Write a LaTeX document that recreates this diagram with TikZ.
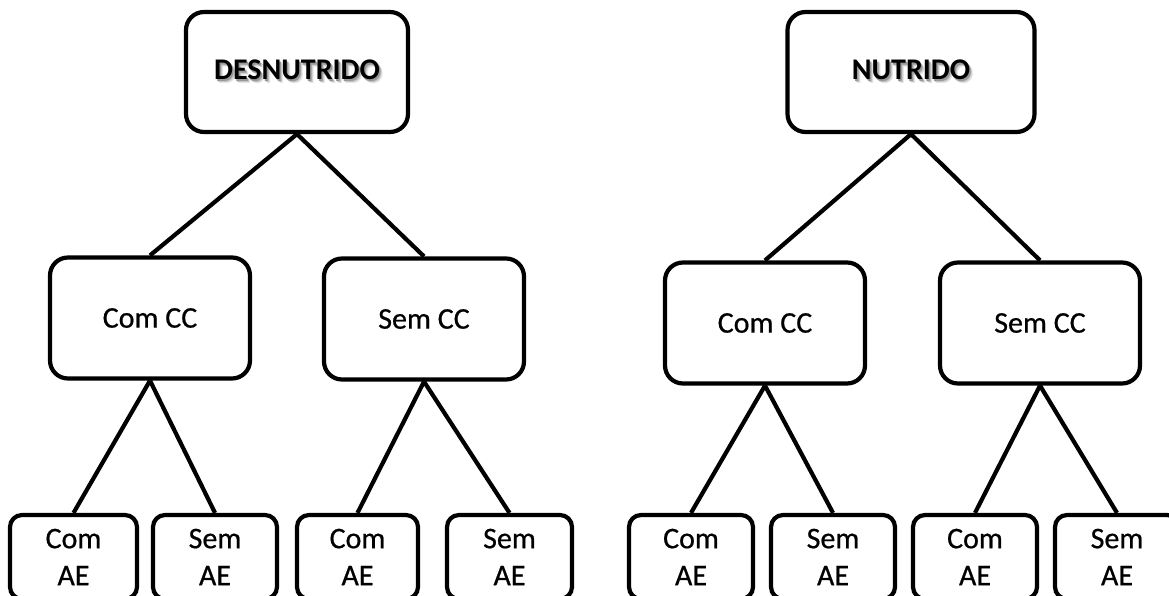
\documentclass[tikz,border=0pt]{standalone}
\usepackage{fontspec}
\setmainfont{Carlito}[UprightFeatures={FakeBold=0.6}]
% bold title with a soft drop shadow built from offset grey copies
\newcommand\shadowed[1]{%
  \makebox[0pt][l]{\kern3.5pt\raisebox{-3.5pt}{\color{black!10}#1}}%
  \makebox[0pt][l]{\kern2.5pt\raisebox{-2.5pt}{\color{black!22}#1}}%
  \makebox[0pt][l]{\kern1.5pt\raisebox{-1.5pt}{\color{black!40}#1}}%
  #1}
\begin{document}
\begin{tikzpicture}[x=1pt,y=-1pt,
  box/.style={draw, line width=4.2pt, inner sep=0pt, align=center,
    font=\fontsize{30}{37}\selectfont},
  topbox/.style={box, rounded corners=18pt, minimum height=120pt,
    font=\fontsize{30}{37}\selectfont\bfseries},
  midbox/.style={box, rounded corners=18pt, minimum height=121pt, minimum width=200pt},
  leafbox/.style={box, rounded corners=12pt, minimum height=84pt, minimum width=124pt},
  link/.style={line width=4.2pt}]
\useasboundingbox (0,0) rectangle (1169,596);
\clip (0,0) rectangle (1169,596);

% roots
\node[topbox, minimum width=222pt] (d) at (297,72) {\shadowed{DESNUTRIDO}};
\node[topbox, minimum width=247pt] (n) at (911,72) {\shadowed{NUTRIDO}};

% second level
\node[midbox] (dc) at (150,318) {Com CC};
\node[midbox] (ds) at (424,319) {Sem CC};
\node[midbox] (nc) at (765,323) {Com CC};
\node[midbox] (ns) at (1040,323) {Sem CC};

% leaves
\node[leafbox, minimum width=127pt] (b1) at (73.5,557) {Com\\AE};
\node[leafbox] (b2) at (215,557) {Sem\\AE};
\node[leafbox, minimum width=121pt] (b3) at (357.5,557) {Com\\AE};
\node[leafbox, minimum width=125pt] (b4) at (509.5,557) {Sem\\AE};
\node[leafbox] (b5) at (691,557) {Com\\AE};
\node[leafbox] (b6) at (833,557) {Sem\\AE};
\node[leafbox] (b7) at (975,557) {Com\\AE};
\node[leafbox] (b8) at (1117,557) {Sem\\AE};

% connectors
\draw[link] (d.south) -- (dc.north);
\draw[link] (d.south) -- (ds.north);
\draw[link] (n.south) -- (nc.north);
\draw[link] (n.south) -- (ns.north);
\draw[link] (dc.south) -- (b1.north);
\draw[link] (dc.south) -- (b2.north);
\draw[link] (ds.south) -- (b3.north);
\draw[link] (ds.south) -- (b4.north);
\draw[link] (nc.south) -- (b5.north);
\draw[link] (nc.south) -- (b6.north);
\draw[link] (ns.south) -- (b7.north);
\draw[link] (ns.south) -- (b8.north);
\end{tikzpicture}
\end{document}
